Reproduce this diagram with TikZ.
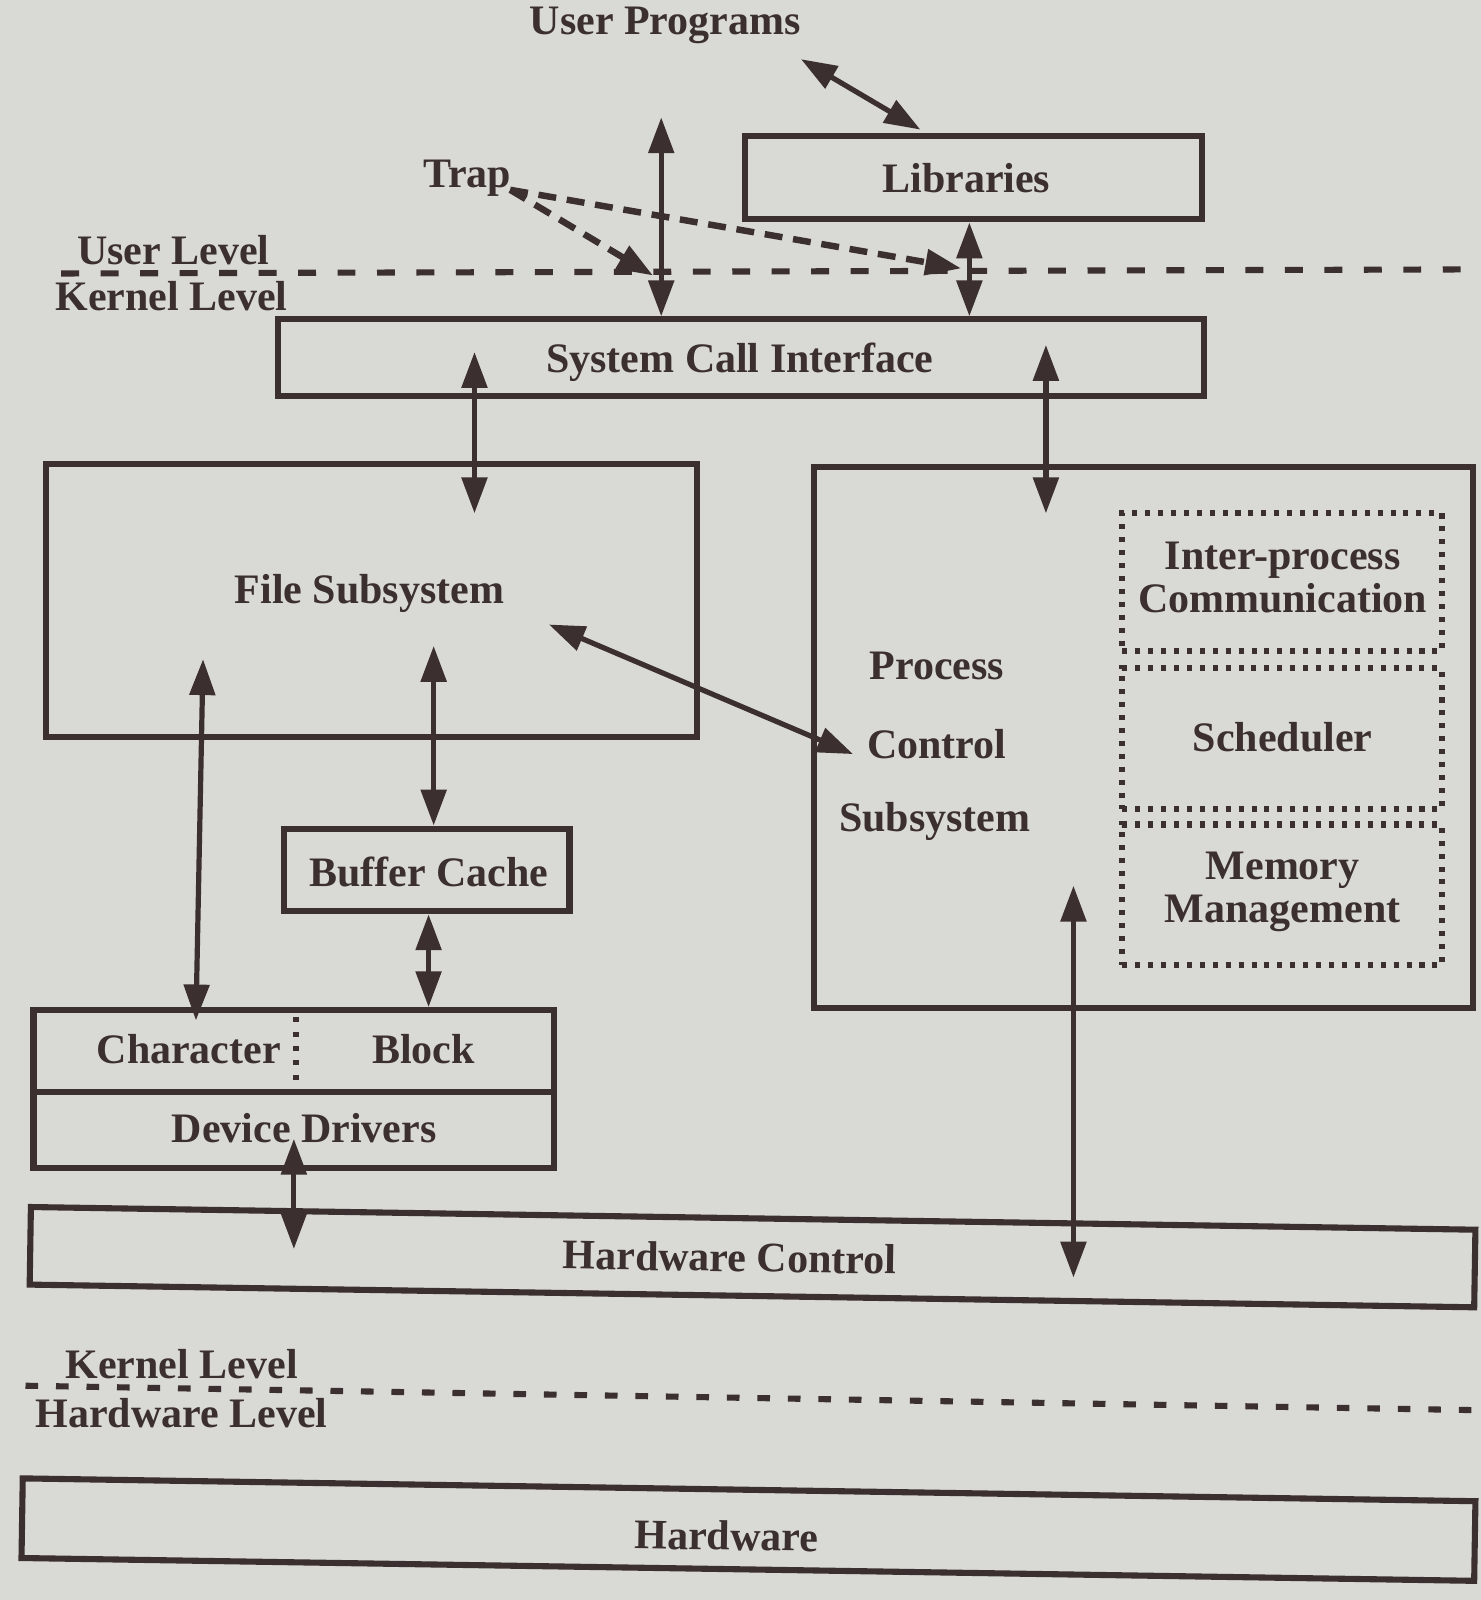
\documentclass[tikz,border=0pt]{standalone}
\usepackage{fontspec}
\setmainfont{Liberation Serif}
\usetikzlibrary{arrows.meta,calc}
\definecolor{bgc}{HTML}{D9D9D6}
\definecolor{ink}{HTML}{3B2F2F}
\tikzset{
  lbl/.style={font=\fontsize{11.7pt}{13.2pt}\selectfont\bfseries, text=ink, inner sep=0pt},
  box/.style={draw=ink, line width=1.7pt, inner sep=0pt},
  dotbox/.style={draw=ink, line width=1.7pt, dash pattern=on 1.4pt off 2.2pt, inner sep=0pt},
  arr/.style={draw=ink, line width=1.45pt, {Triangle[length=10pt,width=7pt]}-{Triangle[length=10pt,width=7pt]}},
  traparr/.style={draw=ink, line width=1.8pt, dash pattern=on 5pt off 3pt, -{Triangle[length=10pt,width=7pt]}},
  levelline/.style={draw=ink, line width=1.7pt, dash pattern=on 5pt off 6pt},
  levelline2/.style={draw=ink, line width=1.7pt, dash pattern=on 3.5pt off 5pt},
}
\begin{document}
\begin{tikzpicture}[x=0.01cm,y=-0.01cm]
\useasboundingbox[fill=bgc] (0,0) rectangle (1451,1568);

% boxes
\node[box, minimum width=4.48cm, minimum height=0.82cm] (lib) at (954,174) {};
\node[lbl] (libt) at (947,175) {Libraries};
\node[box, minimum width=9.07cm, minimum height=0.75cm] (sci) at (726.5,350.5) {};
\node[lbl] (scit) at (725,355) {System Call Interface};
\node[box, minimum width=6.38cm, minimum height=2.67cm] (fs) at (364,588.5) {};
\node[lbl] (fst) at (362,582) {File Subsystem};
\node[box, minimum width=6.45cm, minimum height=5.30cm] (pcs) at (1120.5,723) {};
\node[lbl] (pcs1) at (918,653) {Process};
\node[lbl] (pcs2) at (918,729) {Control};
\node[lbl] (pcs3) at (916,805) {Subsystem};
\node[dotbox, minimum width=3.13cm, minimum height=1.35cm] (ipc) at (1256.5,570.5) {};
\node[lbl, align=center] (ipct) at (1257,566) {Inter-process\\[-1pt]Communication};
\node[dotbox, minimum width=3.13cm, minimum height=1.38cm] (sch) at (1256.5,724) {};
\node[lbl] (scht) at (1257,722) {Scheduler};
\node[dotbox, minimum width=3.13cm, minimum height=1.38cm] (mem) at (1256.5,877) {};
\node[lbl, align=center] (memt) at (1257,874) {Memory\\[-1pt]Management};
\node[box, minimum width=2.80cm, minimum height=0.81cm] (bc) at (418,852.5) {};
\node[lbl] (bct) at (420,855) {Buffer Cache};
\node[box, minimum width=5.10cm, minimum height=0.80cm] (cb) at (288,1030) {};
\node[lbl] (chart) at (185,1028) {Character};
\node[lbl] (blkt) at (415,1028) {Block};
\node[box, minimum width=5.10cm, minimum height=0.75cm] (dd) at (288,1107.5) {};
\node[lbl] (ddt) at (298,1106) {Device Drivers};
\node[box, rotate=-0.9, minimum width=14.15cm, minimum height=0.76cm] (hwc) at (737.5,1232) {};
\node[lbl, rotate=-0.9] (hwct) at (715,1232) {Hardware Control};
\node[box, rotate=-0.9, minimum width=14.23cm, minimum height=0.78cm] (hw) at (733.5,1499) {};
\node[lbl, rotate=-0.9] (hwt) at (712,1505) {Hardware};

% divider in character/block box
\coordinate (dv1) at (290,997);
\coordinate (dv2) at (290,1064);
\draw[draw=ink, line width=1.7pt, dash pattern=on 1.4pt off 2.6pt] (dv1) -- (dv2);

% labels
\node[lbl] (upt) at (652,25) {User Programs};
\node[lbl] (trap) at (458,175) {Trap};
\node[lbl] (ul) at (170,245) {User Level};
\node[lbl] (kl) at (168,290) {Kernel Level};
\node[lbl] (kl2) at (178,1337) {Kernel Level};
\node[lbl] (hl) at (178,1385) {Hardware Level};

% level lines
\coordinate (uk1) at (60,268);
\coordinate (uk2) at (1440,264);
\draw[levelline] (uk1) -- (uk2);
\coordinate (kh1) at (25,1358);
\coordinate (kh2) at (1450,1382);
\draw[levelline2] (kh1) -- (kh2);

% connectors
\coordinate (upA) at (785,58);
\coordinate (libA) at (902,127);
\draw[arr] (upA) -- (libA);

\coordinate (x648) at (648,0);
\coordinate (upB) at (648,115);
\draw[arr] (upB) -- (sci.north -| x648);

\coordinate (x950) at (950,0);
\draw[arr] (lib.south -| x950) -- (sci.north -| x950);

\coordinate (trapA) at (500,186);
\coordinate (trapT1) at (640,270);
\coordinate (trapT2) at (942,263);
\draw[traparr] (trapA) -- (trapT1);
\draw[traparr] (trapA) -- (trapT2);

\coordinate (sciL) at (465,345);
\coordinate (fsT) at (465,503);
\draw[arr] (sciL) -- (fsT);
\coordinate (sciR) at (1025,338);
\coordinate (pcsT) at (1025,503);
\draw[arr] (sciR) -- (pcsT);

\coordinate (fsD) at (538,612);
\coordinate (pcsD) at (836,739);
\draw[arr] (fsD) -- (pcsD);

\coordinate (fsC) at (199,646);
\coordinate (chC) at (192,1000);
\draw[arr] (fsC) -- (chC);

\coordinate (fsB) at (425,633);
\draw[arr] (fsB) -- (bc.north -| fsB);

\coordinate (x420) at (420,0);
\draw[arr] (bc.south -| x420) -- (cb.north -| x420);

\coordinate (ddH) at (288,1116);
\coordinate (hwcD) at (288,1224);
\draw[arr] (ddH) -- (hwcD);

\coordinate (pcsH) at (1052,868);
\coordinate (hwcP) at (1052,1252);
\draw[arr] (pcsH) -- (hwcP);
\end{tikzpicture}
\end{document}
